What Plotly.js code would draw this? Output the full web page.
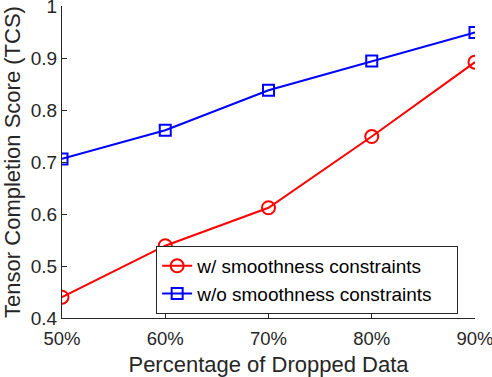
<!DOCTYPE html>
<html>
<head>
<meta charset="utf-8">
<script src="https://cdn.plot.ly/plotly-3.0.1.min.js"></script>
<style>
  html, body { margin: 0; padding: 0; background: #fff; }
  #chart { width: 492px; height: 377px; }
</style>
</head>
<body>
<div id="chart"></div>
<script>
// percentages of dropped data
var dropped = ['50%', '60%', '70%', '80%', '90%'];
// TCS with smoothness constraints
var withSmooth = [0.44, 0.539, 0.612, 0.749, 0.892];
// TCS without smoothness constraints
var withoutSmooth = [0.706, 0.761, 0.838, 0.894, 0.949];
var yTicks = [0.4, 0.5, 0.6, 0.7, 0.8, 0.9, 1];
var yTickText = ['0.4', '0.5', '0.6', '0.7', '0.8', '0.9', '1'];

var axisColor = '#262626';

var trace1 = {
    x: dropped,
    y: withSmooth,
    type: 'scatter',
    mode: 'lines+markers',
    name: 'w/ smoothness constraints',
    line: {color: '#ff0000', width: 2},
    marker: {symbol: 'circle-open', size: 13, color: '#ff0000', line: {width: 2, color: '#ff0000'}}
};
var trace2 = {
    x: dropped,
    y: withoutSmooth,
    type: 'scatter',
    mode: 'lines+markers',
    // trailing em space widens the legend box like the original
    name: 'w/o smoothness constraints\u2003',
    line: {color: '#0000ff', width: 2},
    marker: {symbol: 'square-open', size: 11, color: '#0000ff', line: {width: 2, color: '#0000ff'}}
};

var layout = {
    width: 492,
    height: 377,
    margin: {l: 62, r: 17, t: 6, b: 59},
    paper_bgcolor: '#ffffff',
    plot_bgcolor: '#ffffff',
    font: {family: 'Liberation Sans, Arial, sans-serif', size: 19, color: axisColor},
    showlegend: true,
    legend: {
        x: 0.228, y: 0.122, xanchor: 'left', yanchor: 'middle',
        bordercolor: axisColor, borderwidth: 1, bgcolor: '#ffffff',
        font: {size: 19, color: '#000000'},
        tracegroupgap: 0
    },
    xaxis: {
        type: 'category',
        range: [0, 4],
        automargin: false,
        showgrid: false,
        zeroline: false,
        showline: true,
        linecolor: axisColor,
        linewidth: 1,
        ticks: 'inside',
        ticklen: 5,
        tickcolor: axisColor,
        tickfont: {size: 18.5},
        ticklabelstandoff: 4,
        title: {text: 'Percentage of Dropped Data', font: {size: 22}, standoff: 8}
    },
    yaxis: {
        range: [0.4, 1],
        automargin: false,
        tickvals: yTicks,
        ticktext: yTickText,
        ticklabeloverflow: 'allow',
        showgrid: false,
        zeroline: false,
        showline: true,
        linecolor: axisColor,
        linewidth: 1,
        ticks: 'inside',
        ticklen: 5,
        tickcolor: axisColor,
        tickfont: {size: 19},
        title: {text: 'Tensor Completion Score (TCS)', font: {size: 22}, standoff: 4}
    }
};

Plotly.newPlot('chart', [trace1, trace2], layout, {displayModeBar: false, staticPlot: true});
</script>
</body>
</html>
